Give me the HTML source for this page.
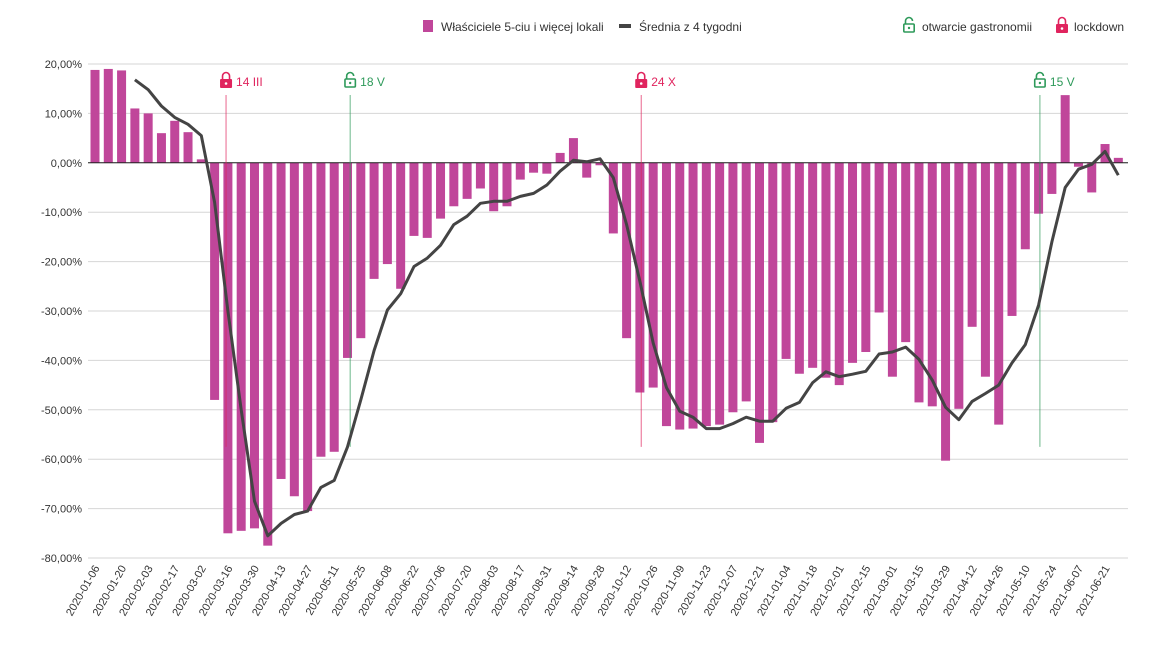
<!DOCTYPE html>
<html><head><meta charset="utf-8"><style>
body{margin:0;background:#fff;font-family:"Liberation Sans",Arial,sans-serif}
svg{display:block}
</style></head><body>
<svg id="chart" width="1163" height="657" viewBox="0 0 1163 657" font-family="Liberation Sans, Arial, sans-serif">
<g font-size="12" fill="#333">
 <rect x="423" y="20" width="10" height="12" fill="#c0469a"/>
 <text x="441" y="31">Właściciele 5-ciu i więcej lokali</text>
 <rect x="619" y="24" width="12" height="4" fill="#444"/>
 <text x="639" y="31">Średnia z 4  tygodni</text>
 <g transform="translate(903,17)"><path d="M2.5 7 V4 a3.5 3.5 0 0 1 7 0" fill="none" stroke="#2e9a5a" stroke-width="1.6"/><rect x="0.8" y="7" width="10.4" height="8" rx="1" fill="none" stroke="#2e9a5a" stroke-width="1.6"/><circle cx="6" cy="11" r="1.2" fill="#2e9a5a"/></g>
 <text x="922" y="31">otwarcie gastronomii</text>
 <g transform="translate(1056,17)"><path d="M2.5 7 V4 a3.5 3.5 0 0 1 7 0 V7" fill="none" stroke="#e0245e" stroke-width="1.6"/><rect x="0" y="7" width="12" height="9" rx="1" fill="#e0245e"/><circle cx="6" cy="11.5" r="1.3" fill="#fff"/></g>
 <text x="1074" y="31">lockdown</text>
</g>
<g id="grid"></g><g id="bars"></g><g id="markers"></g><g id="line"></g><g id="xlabels"></g>
</svg>
<script>
const dates=["2020-01-06","2020-01-13","2020-01-20","2020-01-27","2020-02-03","2020-02-10","2020-02-17","2020-02-24","2020-03-02","2020-03-09","2020-03-16","2020-03-23","2020-03-30","2020-04-06","2020-04-13","2020-04-20","2020-04-27","2020-05-04","2020-05-11","2020-05-18","2020-05-25","2020-06-01","2020-06-08","2020-06-15","2020-06-22","2020-06-29","2020-07-06","2020-07-13","2020-07-20","2020-07-27","2020-08-03","2020-08-10","2020-08-17","2020-08-24","2020-08-31","2020-09-07","2020-09-14","2020-09-21","2020-09-28","2020-10-05","2020-10-12","2020-10-19","2020-10-26","2020-11-02","2020-11-09","2020-11-16","2020-11-23","2020-11-30","2020-12-07","2020-12-14","2020-12-21","2020-12-28","2021-01-04","2021-01-11","2021-01-18","2021-01-25","2021-02-01","2021-02-08","2021-02-15","2021-02-22","2021-03-01","2021-03-08","2021-03-15","2021-03-22","2021-03-29","2021-04-05","2021-04-12","2021-04-19","2021-04-26","2021-05-03","2021-05-10","2021-05-17","2021-05-24","2021-05-31","2021-06-07","2021-06-14","2021-06-21","2021-06-28"];
const barValues=[18.8,19,18.7,11,10,6,8.5,6.2,0.7,-48,-75,-74.5,-74,-77.5,-64,-67.5,-70.5,-59.5,-58.5,-39.5,-35.5,-23.5,-20.5,-25.5,-14.8,-15.2,-11.3,-8.8,-7.3,-5.2,-9.8,-8.8,-3.4,-2,-2.2,2,5,-3,-0.5,-14.3,-35.5,-46.5,-45.5,-53.3,-54,-53.8,-53.3,-53,-50.5,-48.3,-56.7,-52.5,-39.7,-42.7,-41.5,-43.5,-45,-40.5,-38.3,-30.3,-43.3,-36.3,-48.5,-49.3,-60.3,-49.8,-33.2,-43.3,-53,-31,-17.5,-10.3,-6.3,13.7,-0.8,-6,3.8,1];
const avgValues=[null,null,null,16.8,14.8,11.5,9.2,7.8,5.5,-8,-30,-50,-68.5,-75.5,-73,-71.2,-70.5,-65.7,-64.3,-57.5,-48,-38,-29.8,-26.5,-21,-19.3,-16.7,-12.5,-10.8,-8.2,-7.8,-7.8,-6.8,-6.2,-4.5,-1.7,0.5,0.2,0.8,-3,-12.5,-24,-36.5,-45.5,-50.3,-51.5,-53.8,-53.8,-52.8,-51.5,-52.3,-52.3,-49.7,-48.5,-44.5,-42.3,-43.3,-42.8,-42.2,-38.7,-38.3,-37.3,-39.8,-44,-49.5,-52,-48.3,-46.7,-45,-40.5,-36.8,-28.8,-16,-5,-1.3,-0.3,2.3,-2.5];
const yTicks=[20,10,0,-10,-20,-30,-40,-50,-60,-70,-80];
const yTickLabels=["20,00%","10,00%","0,00%","-10,00%","-20,00%","-30,00%","-40,00%","-50,00%","-60,00%","-70,00%","-80,00%"];
const markerPos=[9.86,19.2,41.1,71.1];
const markerLabels=["14 III","18 V","24 X","15 V"];
const markerTypes=["lock","unlock","lock","unlock"];

const NS="http://www.w3.org/2000/svg";
const X0=88,X1=1128,Y0=64,Y1=558,VMAX=20,VMIN=-80;
const step=13.29, first=95;
function xs(i){return first+i*step;}
function ys(v){return Y0+(VMAX-v)/(VMAX-VMIN)*(Y1-Y0);}
function mk(tag,attrs,parent){const e=document.createElementNS(NS,tag);for(const k in attrs)e.setAttribute(k,attrs[k]);parent.appendChild(e);return e;}

const grid=document.getElementById('grid');
yTicks.forEach((t,i)=>{
 const l=mk('line',{x1:X0,x2:X1,y1:ys(t),y2:ys(t),stroke:'#d6d6d6','stroke-width':1},grid);
 
 
 const tx=mk('text',{x:82,y:ys(t)+4,'text-anchor':'end','font-size':11,fill:'#333'},grid);
 tx.textContent=yTickLabels[i];
 
 
});

const bars=document.getElementById('bars');
barValues.forEach((v,i)=>{
 const y=Math.min(ys(v),ys(0)),h=Math.abs(ys(v)-ys(0));
 const r=mk('rect',{x:xs(i)-4.5,y:y,width:9,height:Math.max(h,0.5),fill:'#c0469a'},bars);
 
 
});
const zl=mk('line',{x1:X0,x2:X1,y1:ys(0),y2:ys(0),stroke:'#222','stroke-width':1},bars);



const markers=document.getElementById('markers');
markerPos.forEach((p,i)=>{
 const x=xs(p),col=markerTypes[i]==='lock'?'#e0245e':'#2e9a5a';
 const g=mk('g',{},markers);
 
 
 mk('line',{x1:x,x2:x,y1:95,y2:ys(-57.5),stroke:col,'stroke-width':1,opacity:0.7},g);
 const ic=mk('g',{transform:`translate(${x-6},${72})`},g);
 if(markerTypes[i]==='lock'){
  mk('path',{d:'M2.5 7 V4 a3.5 3.5 0 0 1 7 0 V7',fill:'none',stroke:col,'stroke-width':1.6},ic);
  mk('rect',{x:0,y:7,width:12,height:9,rx:1,fill:col},ic);
  mk('circle',{cx:6,cy:11.5,r:1.3,fill:'#fff'},ic);
 } else {
  mk('path',{d:'M2.5 7 V4 a3.5 3.5 0 0 1 7 0',fill:'none',stroke:col,'stroke-width':1.6},ic);
  mk('rect',{x:0.8,y:7,width:10.4,height:8,rx:1,fill:'none',stroke:col,'stroke-width':1.6},ic);
  mk('circle',{cx:6,cy:11,r:1.2,fill:col},ic);
 }
 const t=mk('text',{x:x+10,y:86,'font-size':12,fill:col},g);
 t.textContent=markerLabels[i];
});

const lineG=document.getElementById('line');
let d='';
avgValues.forEach((v,i)=>{if(v===null)return;d+=(d?'L':'M')+xs(i).toFixed(1)+' '+ys(v).toFixed(1)+' ';});
const pl=mk('path',{d:d,fill:'none',stroke:'#444','stroke-width':3,'stroke-linejoin':'round'},lineG);



const xl=document.getElementById('xlabels');
dates.forEach((dt,i)=>{
 if(i%2)return;
 const x=xs(i)+5,y=568;
 const t=mk('text',{x:x,y:y,'text-anchor':'end','font-size':11,fill:'#333',transform:`rotate(-60 ${x} ${y})`},xl);
 t.textContent=dt;
 
 
});
</script>
</body></html>
